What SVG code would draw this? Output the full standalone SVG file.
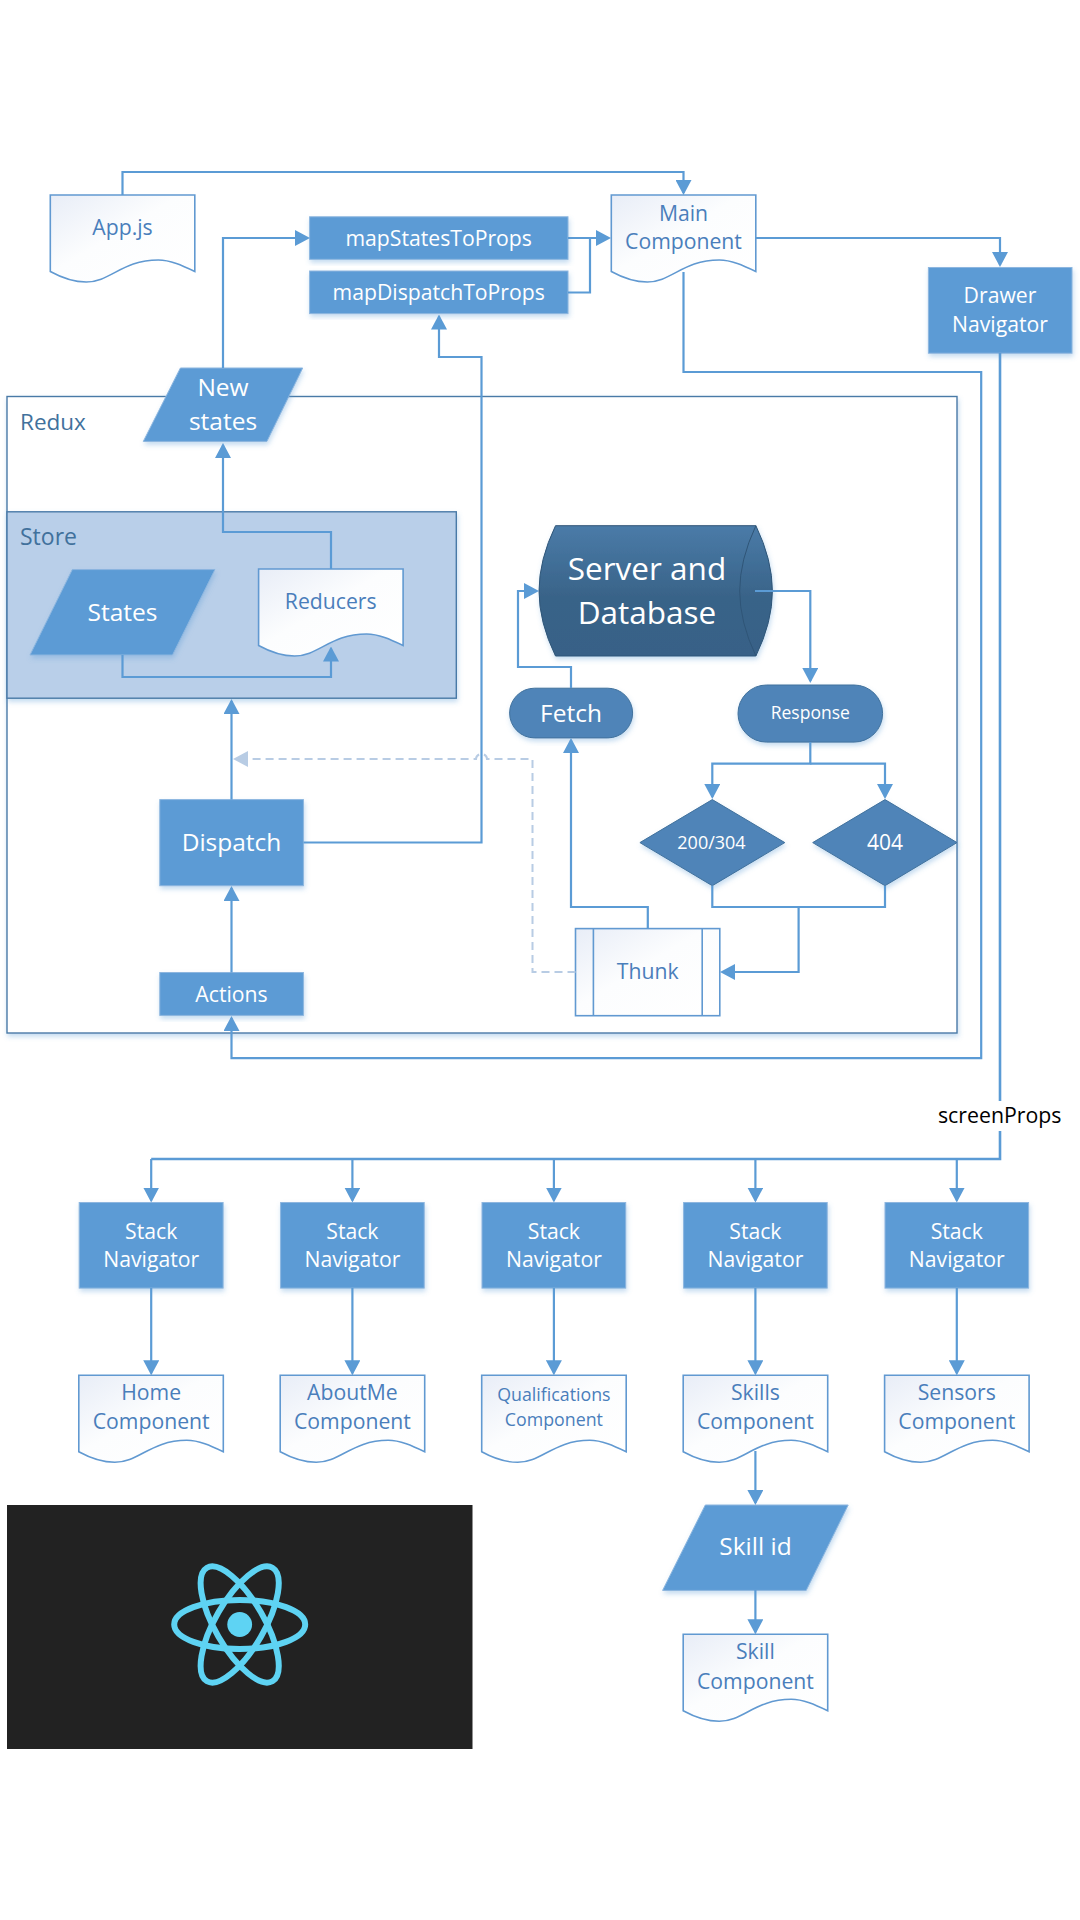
<svg xmlns="http://www.w3.org/2000/svg" width="1080" height="1920" viewBox="0 0 1080 1920">
<style>
text{font-family:"Open Sans","Noto Sans","Liberation Sans",sans-serif;text-anchor:middle}
.w{fill:#fff}
.b{fill:#4a7ebb}
.t16{font-size:21.200px}
.t18{font-size:24.500px}
.box{fill:#5b9bd5;stroke:#8db6df;stroke-width:1;filter:url(#sh)}
.dark{fill:#4f84b8;stroke:#41719c;stroke-width:1;filter:url(#sh)}
.doc{fill:url(#dg);stroke:#6199d1;stroke-width:1.600}
.c{fill:none;stroke:#5b9bd5;stroke-width:2.200;marker-end:url(#a)}
.n{fill:none;stroke:#5b9bd5;stroke-width:2.200}
.d{fill:none;stroke:#b8cce4;stroke-width:2;stroke-dasharray:8 5;marker-end:url(#al)}
.frame{stroke:#4a7aa7;stroke-width:1.400;filter:url(#sh)}
</style>
<defs>
<linearGradient id="dg" x1="0" y1="0" x2="1" y2="1"><stop offset="0" stop-color="#e8edf7"/><stop offset=".45" stop-color="#fcfdfe"/><stop offset="1" stop-color="#fff"/></linearGradient>
<linearGradient id="sg" x1="0" y1="0" x2="0" y2="1"><stop offset="0" stop-color="#4a7ba8"/><stop offset=".55" stop-color="#396388"/><stop offset="1" stop-color="#386187"/></linearGradient>
<filter id="sh" x="-10%" y="-10%" width="120%" height="125%"><feDropShadow dx="1" dy="3" stdDeviation="2.500" flood-color="#5b9bd5" flood-opacity=".35"/></filter>
<marker id="a" markerUnits="userSpaceOnUse" markerWidth="15" markerHeight="16" refX="13" refY="8" orient="auto"><path d="M0 0L15 8L0 16z" fill="#5b9bd5"/></marker>
<marker id="al" markerUnits="userSpaceOnUse" markerWidth="15" markerHeight="16" refX="13" refY="8" orient="auto"><path d="M0 0L15 8L0 16z" fill="#b8cce4"/></marker>
<path id="docp" d="M0 0H144.500V76.500C132 70.500 120 65 108 65C72 65 60 87 36 87C22 87 10 82 0 76.500Z"/>
</defs>
<rect width="1080" height="1920" fill="#fff"/>

<g id="redux"><rect class="frame" x="7" y="396.500" width="950" height="636.500" fill="#fff"/><text x="20" y="430" style="text-anchor:start;font-size:22.500px" fill="#41719c">Redux</text></g>
<g id="store"><rect class="frame" x="7" y="511.800" width="449.300" height="186.400" fill="#b9cfe9"/><text x="20" y="544.600" style="text-anchor:start;font-size:23px" fill="#41719c">Store</text></g>

<g id="appjs"><use href="#docp" class="doc" transform="translate(50.300 195)"/><text class="b t16" x="122.500" y="235.400">App.js</text></g>
<g id="main"><use href="#docp" class="doc" transform="translate(611.300 195)"/><text class="b t16" x="683.500" y="220.800">Main</text><text class="b t16" x="683.500" y="249">Component</text></g>
<g id="mapstates"><rect class="box" x="309.600" y="216.800" width="258.400" height="42.500"/><text class="w t16" x="438.700" y="246.100">mapStatesToProps</text></g>
<g id="mapdispatch"><rect class="box" x="309.600" y="271" width="258.400" height="42.600"/><text class="w t16" x="438.700" y="300.400">mapDispatchToProps</text></g>
<g id="newstates"><path class="box" d="M180.400 368H302.700L266.900 441.400H143.300Z"/><text class="w t18" x="223" y="395.700">New</text><text class="w t18" x="223" y="429.600">states</text></g>
<g id="states"><path class="box" d="M72.300 569.600H214.900L172.500 655H30Z"/><text class="w t18" x="122.500" y="620.700">States</text></g>
<g id="reducers"><use href="#docp" class="doc" transform="translate(258.600 569)"/><text class="b t16" x="330.700" y="609">Reducers</text></g>
<g id="dispatch"><rect class="box" x="159.800" y="799.600" width="143.600" height="86.100"/><text class="w t18" x="231.500" y="850.700">Dispatch</text></g>
<g id="actions"><rect class="box" x="159.800" y="972.500" width="143.600" height="42.900"/><text class="w t16" x="231.500" y="1001.800">Actions</text></g>
<g id="drawer"><rect class="box" x="928.400" y="267.500" width="143.600" height="85.700"/><text class="w t16" x="1000" y="303.300">Drawer</text><text class="w t16" x="1000" y="332.400">Navigator</text></g>
<g id="server"><path d="M555.500 525.700H755.900Q772.400 560 772.400 591T755.900 656H555.500Q539 622 539 591T555.500 525.700Z" fill="url(#sg)" stroke="#2f5577" stroke-width="1" filter="url(#sh)"/><path d="M755.900 525.700Q739.700 560 739.700 591T755.900 656" fill="none" stroke="#2f5577" stroke-width="1"/><text class="w" style="font-size:31.500px" x="647" y="579.600">Server and</text><text class="w" style="font-size:31.500px" x="647" y="623.600">Database</text></g>
<g id="fetch"><rect class="dark" x="509.600" y="688.200" width="123" height="49.700" rx="24.800"/><text class="w t18" x="571" y="722">Fetch</text></g>
<g id="response"><rect class="dark" x="738" y="685" width="144.600" height="57.100" rx="28.500"/><text class="w" style="font-size:17.500px" x="810.300" y="718.900">Response</text></g>
<g id="ok"><path class="dark" d="M712.300 799.600L784.800 842.600L712.300 885.700L639.900 842.600Z"/><text class="w" style="font-size:18px" x="711.500" y="849.300">200/304</text></g>
<g id="nf"><path class="dark" d="M885 799.600L957 842.600L885 885.700L812.700 842.600Z"/><text class="w" style="font-size:21px" x="885" y="849.600">404</text></g>
<g id="thunk"><rect class="doc" x="575.500" y="928.600" width="144.300" height="87.100"/><path class="doc" style="fill:none" d="M593.400 928.600V1015.700M702.200 928.600V1015.700"/><text class="b t16" x="647.700" y="979">Thunk</text></g>
<g id="screenprops-label"><text x="999.700" y="1122.900" fill="#000" style="font-size:21.300px">screenProps</text></g>

<g id="stack1"><rect class="box" x="79.200" y="1202.500" width="143.900" height="85.600"/><text class="w t16" x="151.200" y="1238.700">Stack</text><text class="w t16" x="151.200" y="1267.100">Navigator</text></g>
<g id="stack2"><rect class="box" x="280.600" y="1202.500" width="143.600" height="85.600"/><text class="w t16" x="352.400" y="1238.700">Stack</text><text class="w t16" x="352.400" y="1267.100">Navigator</text></g>
<g id="stack3"><rect class="box" x="482" y="1202.500" width="143.700" height="85.600"/><text class="w t16" x="553.900" y="1238.700">Stack</text><text class="w t16" x="553.900" y="1267.100">Navigator</text></g>
<g id="stack4"><rect class="box" x="683.600" y="1202.500" width="143.600" height="85.600"/><text class="w t16" x="755.400" y="1238.700">Stack</text><text class="w t16" x="755.400" y="1267.100">Navigator</text></g>
<g id="stack5"><rect class="box" x="885" y="1202.500" width="143.600" height="85.600"/><text class="w t16" x="956.800" y="1238.700">Stack</text><text class="w t16" x="956.800" y="1267.100">Navigator</text></g>

<g id="home"><use href="#docp" class="doc" transform="translate(78.800 1375.300)"/><text class="b t16" x="151.200" y="1400">Home</text><text class="b t16" x="151.200" y="1429">Component</text></g>
<g id="aboutme"><use href="#docp" class="doc" transform="translate(280.200 1375.300)"/><text class="b t16" x="352.400" y="1400">AboutMe</text><text class="b t16" x="352.400" y="1429">Component</text></g>
<g id="qualifications"><use href="#docp" class="doc" transform="translate(481.700 1375.300)"/><text class="b" style="font-size:17.800px" x="553.900" y="1401.300">Qualifications</text><text class="b" style="font-size:17.800px" x="553.900" y="1426.300">Component</text></g>
<g id="skills"><use href="#docp" class="doc" transform="translate(683.200 1375.300)"/><text class="b t16" x="755.400" y="1400">Skills</text><text class="b t16" x="755.400" y="1429">Component</text></g>
<g id="sensors"><use href="#docp" class="doc" transform="translate(884.600 1375.300)"/><text class="b t16" x="956.800" y="1400">Sensors</text><text class="b t16" x="956.800" y="1429">Component</text></g>
<g id="skillid"><path class="box" d="M705.300 1505H848.200L806.200 1590.400H662.600Z"/><text class="w t18" x="755.500" y="1555.200">Skill id</text></g>
<g id="skill"><use href="#docp" class="doc" transform="translate(683.200 1634.300)"/><text class="b t16" x="755.400" y="1658.900">Skill</text><text class="b t16" x="755.400" y="1688.500">Component</text></g>

<g id="react-logo"><rect x="7" y="1505" width="465.500" height="244" fill="#222"/>
<g fill="none" stroke="#5ed3f3" stroke-width="6"><ellipse cx="239.700" cy="1624.500" rx="65.500" ry="24.500"/><ellipse cx="239.700" cy="1624.500" rx="65.500" ry="24.500" transform="rotate(60 239.700 1624.500)"/><ellipse cx="239.700" cy="1624.500" rx="65.500" ry="24.500" transform="rotate(120 239.700 1624.500)"/></g>
<circle cx="239.700" cy="1624.500" r="12.400" fill="#5ed3f3"/></g>

<g id="connectors">
<path class="c" d="M122.500 195V172H683.500V193"/>
<path class="c" d="M223 368V238H308"/>
<path class="c" d="M568 238H609"/>
<path class="n" d="M568 292.500H590V238"/>
<path class="c" d="M331 569V532H223V445"/>
<path class="c" d="M122.500 655V677H331V648.500"/>
<path class="c" d="M303.500 842.500H481.500V357H439V316.500"/>
<path class="c" d="M231.500 799.600V701"/>
<path class="c" d="M231.500 972.500V888"/>
<path class="c" d="M683.500 272V372H981.200V1058.200H231.500V1018"/>
<path class="c" d="M755.500 238H1000V265"/>
<path class="c" d="M755 591H810.300V681"/>
<path class="c" d="M571 688V667H518V591H537"/>
<path class="c" d="M810.300 742V763.600H712.300V797"/>
<path class="c" d="M810.300 763.600H885V797"/>
<path class="n" d="M712.300 885.700V907H885V885.700"/>
<path class="c" d="M798.600 907V972H722"/>
<path class="c" d="M647.800 928.600V907H571V740"/>
<path class="d" d="M575.500 972H532.500V759H487A5.500 5 0 0 0 476 759H235"/>
<path class="n" style="stroke-width:2.600" d="M1000 353V1101"/>
<path class="n" style="stroke-width:2.600" d="M1000 1131V1159H151.200"/>
<path class="c" d="M151.200 1159V1200.500"/>
<path class="c" d="M352.400 1159V1200.500"/>
<path class="c" d="M553.900 1159V1200.500"/>
<path class="c" d="M755.400 1159V1200.500"/>
<path class="c" d="M956.800 1159V1200.500"/>
<path class="c" d="M151.200 1288V1373.300"/>
<path class="c" d="M352.400 1288V1373.300"/>
<path class="c" d="M553.900 1288V1373.300"/>
<path class="c" d="M755.400 1288V1373.300"/>
<path class="c" d="M956.800 1288V1373.300"/>
<path class="c" d="M755.400 1451V1503"/>
<path class="c" d="M755.400 1590V1632.300"/>
</g>
</svg>
